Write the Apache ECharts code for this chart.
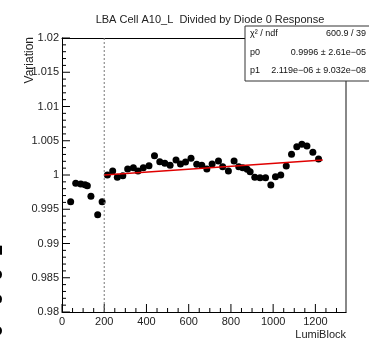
<!DOCTYPE html>
<html>
<head>
<meta charset="utf-8">
<script src="https://cdn.jsdelivr.net/npm/echarts@6/dist/echarts.min.js"></script>
<style>
  html, body { margin: 0; padding: 0; background: #fff; }
  #chart { width: 369px; height: 340px; }
</style>
</head>
<body>
<div id="chart"></div>
<script>
// LumiBlock values of each point
const lumiBlocks = [
  41, 65, 89, 109, 120, 137, 169, 190,
  215, 240, 262, 288, 311, 338, 360, 385, 412, 438,
  463, 487, 512, 540, 561, 585, 611, 638, 662, 686,
  711, 741, 761, 788, 815, 837, 856, 877, 891, 913,
  938, 964, 989, 1011, 1036, 1062, 1087, 1112, 1136, 1160,
  1188, 1215
];
// normalised response (variation)
const variation = [
  0.9961, 0.99879, 0.99869, 0.99858, 0.99844, 0.99689, 0.9942, 0.9961,
  1.0000, 1.00058, 0.99966, 0.9999, 1.00088, 1.00107, 1.00058, 1.00107, 1.00136, 1.00282,
  1.00195, 1.0017, 1.00141, 1.00219, 1.00161, 1.0019, 1.00244, 1.00156, 1.00141, 1.00088,
  1.00161, 1.00205, 1.00122, 1.00058, 1.00205, 1.00122, 1.00107, 1.00083, 1.00049, 0.99966,
  0.99961, 0.99961, 0.99854, 0.99976, 1.0000, 1.00131, 1.00302, 1.00414, 1.00448, 1.00424,
  1.00331, 1.00234
];
// linear fit line ends
const fitX = [200, 1235];
const fitY = [1.0000, 1.0022];
const cutLumi = 200;
const yMin = 0.98, yMax = 1.02;
const xMin = 0, xMax = 1345;

// axis ticks (ROOT style, drawn inside the frame)
const xMajorTicks = [0, 200, 400, 600, 800, 1000, 1200];
const yMajorTicks = [0.98, 0.985, 0.99, 0.995, 1, 1.005, 1.01, 1.015, 1.02];
const xMinorStep = 50;
const yMinorStep = 0.001;

const statLabels = ["\u03c7\u00b2 / ndf", "p0", "p1"];
const statValues = ["600.9 / 39", "0.9996 \u00b1 2.61e\u221205", "2.119e\u221206 \u00b1 9.032e\u221208"];

const FONT = "Liberation Sans, Arial, Helvetica, sans-serif";

const chart = echarts.init(document.getElementById("chart"));

const points = lumiBlocks.map((x, i) => [x, variation[i]]);
const fitLine = fitX.map((x, i) => [x, fitY[i]]);
const cutLine = [[cutLumi, yMin], [cutLumi, yMax]];

// tick list: [axis (0 = x, 1 = y), value, length in px]
const ticks = [];
for (let v = xMin; v <= xMax + 1e-9; v += xMinorStep) {
  const major = xMajorTicks.some(t => Math.abs(t - v) < 1e-6);
  ticks.push([0, v, major ? 8 : 4]);
}
for (let k = 0; k <= Math.round((yMax - yMin) / yMinorStep); k++) {
  const v = +(yMin + k * yMinorStep).toFixed(4);
  const major = yMajorTicks.some(t => Math.abs(t - v) < 1e-7);
  ticks.push([1, v, major ? 8 : 4]);
}

function renderTick(params, api) {
  const axis = api.value(0), v = api.value(1), len = api.value(2);
  let shape;
  if (axis === 0) {
    const p = api.coord([v, yMin]);
    shape = { x1: p[0], y1: p[1], x2: p[0], y2: p[1] - len };
  } else {
    const p = api.coord([xMin, v]);
    shape = { x1: p[0], y1: p[1], x2: p[0] + len, y2: p[1] };
  }
  return { type: "line", shape: shape, style: { stroke: "#000", lineWidth: 1 } };
}

// stats box text rows
const statText = [];
statLabels.forEach((lab, i) => {
  statText.push({ type: "text", z: 20, x: 250, y: 34 + i * 18.5,
    style: { text: lab, font: "9px " + FONT, fill: "#111", textVerticalAlign: "middle" } });
  statText.push({ type: "text", z: 20, x: 366, y: 34 + i * 18.5,
    style: { text: statValues[i], font: "9px " + FONT, fill: "#111",
      textAlign: "right", textVerticalAlign: "middle" } });
});

const option = {
  animation: false,
  title: {
    text: "LBA Cell A10_L  Divided by Diode 0 Response",
    left: 205, top: 9, textAlign: "center",
    textStyle: { fontFamily: FONT, fontSize: 11, fontWeight: "normal", color: "#222" }
  },
  grid: { left: 62, right: 23, top: 38, bottom: 28, containLabel: false },
  xAxis: [{
    type: "value",
    min: xMin, max: xMax, interval: 200,
    axisLine: { show: true, onZero: false, lineStyle: { color: "#000", width: 1 } },
    axisTick: { show: false },
    splitLine: { show: false },
    axisLabel: { fontFamily: FONT, fontSize: 11, color: "#222", margin: 4,
      showMaxLabel: false, formatter: (v) => String(v) }
  }, {
    type: "value", position: "top",
    min: xMin, max: xMax,
    axisLine: { show: true, onZero: false, lineStyle: { color: "#000", width: 1 } },
    axisTick: { show: false }, axisLabel: { show: false }, splitLine: { show: false }
  }],
  yAxis: [{
    type: "value",
    min: yMin, max: yMax, interval: 0.005,
    axisLine: { show: true, onZero: false, lineStyle: { color: "#000", width: 1 } },
    axisTick: { show: false },
    splitLine: { show: false },
    axisLabel: {
      fontFamily: FONT, fontSize: 11, color: "#222", margin: 3,
      formatter: (v) => String(+v.toFixed(3))
    }
  }, {
    type: "value", position: "right",
    min: yMin, max: yMax,
    axisLine: { show: true, onZero: false, lineStyle: { color: "#888", width: 2 } },
    axisTick: { show: false }, axisLabel: { show: false }, splitLine: { show: false }
  }],
  series: [
    {
      type: "custom",
      data: ticks,
      renderItem: renderTick,
      clip: false,
      silent: true,
      encode: { x: 1, y: 1 }
    },
    {
      type: "line",
      data: cutLine,
      showSymbol: false,
      silent: true,
      lineStyle: { color: "#777", type: [2, 2], width: 1 }
    },
    {
      type: "scatter",
      data: points,
      symbol: "circle",
      symbolSize: 7,
      itemStyle: { color: "#000", opacity: 1 }
    },
    {
      type: "line",
      data: fitLine,
      showSymbol: false,
      lineStyle: { color: "#e00000", width: 1.5 }
    }
  ],
  graphic: [
    { type: "text", x: 346, y: 335,
      style: { text: "LumiBlock", font: "11px " + FONT, fill: "#222",
        textAlign: "right", textVerticalAlign: "middle" } },
    { type: "text", x: 30, y: 37, rotation: Math.PI / 2,
      style: { text: "Variation", font: "12px " + FONT, fill: "#222",
        textAlign: "right", textVerticalAlign: "middle" } },
    { type: "text", x: 4, y: 244, rotation: -Math.PI / 2,
      style: { text: "5  0  0 : 0 :  :", font: "bold 22px " + FONT, fill: "#000",
        textAlign: "left", textVerticalAlign: "top" } },
    {
      type: "rect", x: 245, y: 26, z: 10,
      shape: { width: 130, height: 55 },
      style: { fill: "#fff", stroke: "#333", lineWidth: 1 }
    }
  ].concat(statText)
};

chart.setOption(option);
</script>
</body>
</html>
